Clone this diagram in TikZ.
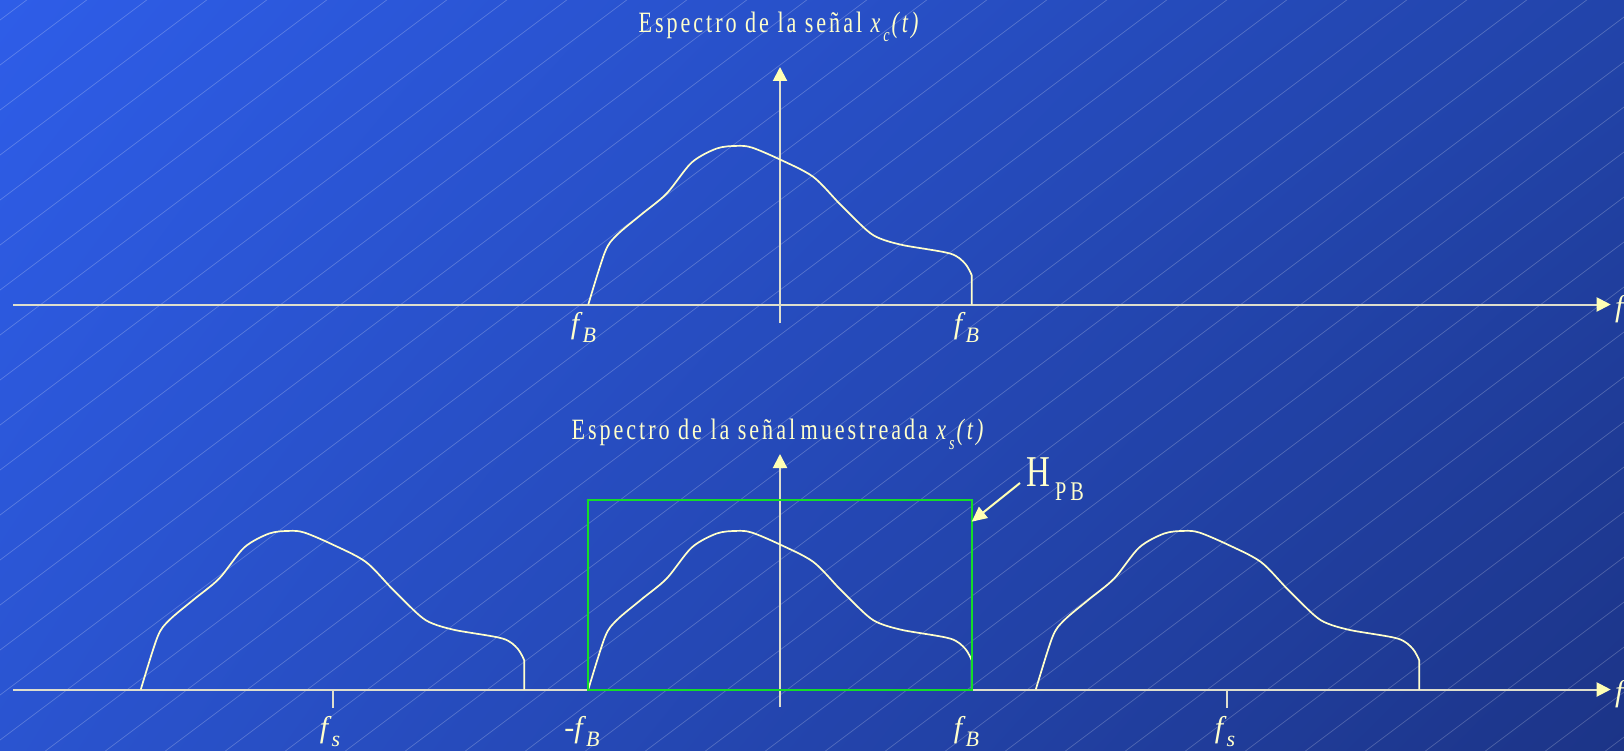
\documentclass[tikz,border=0pt]{standalone}
\usepackage{fontspec}
\setmainfont{Liberation Serif}
\newfontfamily\tfont{Liberation Serif}[FakeStretch=0.75,LetterSpace=10]
\usetikzlibrary{arrows.meta,shadings}
\definecolor{bgTL}{RGB}{46,93,232}
\definecolor{bgTR}{RGB}{34,68,170}
\definecolor{bgBL}{RGB}{42,84,208}
\definecolor{bgBR}{RGB}{28,52,135}
\definecolor{ink}{RGB}{255,255,204}
\definecolor{axiscol}{RGB}{222,222,205}
\definecolor{tipcol}{RGB}{255,255,180}
\definecolor{pbgreen}{RGB}{20,220,40}
\newcommand\sublab[2]{\textit{#1}\raisebox{-9pt}{\fontsize{22}{22}\selectfont\textit{#2}}}
\tikzset{
  hatch/.style={white, opacity=0.22, line width=0.7pt},
  axisline/.style={axiscol, line width=2pt},
  axisarrow/.style={axisline, -{Triangle[length=14pt,width=14pt,fill=tipcol,color=tipcol]}},
  curve/.style={ink, line width=1.7pt, line join=round},
  title/.style={ink, inner sep=0pt, font=\tfont\fontsize{29.5}{32}\selectfont},
  lab/.style={ink, inner sep=0pt, font=\fontsize{30}{32}\selectfont},
  spectrum/.pic={
    \draw[curve] plot[smooth, tension=0.5] coordinates {
      (0,0) (16.7,-52.6) (28.4,-69.3) (53,-90) (78.4,-111) (103.4,-142)
      (128.4,-156) (148.4,-158.6) (163.4,-157) (191.7,-145) (225,-127.6)
      (252,-100) (278.4,-74.3) (291.7,-66) (315,-59.3) (361.7,-51)
      (376.7,-41) (383.4,-29.3)} -- (383.4,0);
  }
}
\begin{document}
\begin{tikzpicture}[x=1pt, y=-1pt]
\useasboundingbox (0,0) rectangle (1624,751);
\shade[upper left=bgTL, upper right=bgTR, lower left=bgBL, lower right=bgBR] (0,0) rectangle (1624,751);
\begin{scope}
  \clip (0,0) rectangle (1624,751);
  \foreach \i in {0,...,44} \draw[hatch] ({26.7+60*\i},0) -- ({26.7+60*\i-1001.3},751);
\end{scope}

% ---------- top spectrum ----------
\node[title, anchor=base] (t1) at (780,32.3)
  {Espectro de la señal \textit{x}\raisebox{-9.4pt}{\fontsize{19}{19}\selectfont\textit{c}}\textit{(t)}};
\coordinate (a1l) at (13,304.5);
\coordinate (a1r) at (1610.7,304.5);
\coordinate (v1b) at (780,323);
\coordinate (v1t) at (780,67);
\draw[axisarrow] (a1l) -- (a1r);
\draw[axisarrow] (v1b) -- (v1t);
\pic at (588.3,304.5) {spectrum};
\node[lab, anchor=base west] (f1) at (1615,316) {\textit{f}};
\node[lab, anchor=base] (fb1) at (583.5,333.5) {\sublab{f}{B}};
\node[lab, anchor=base] (fb2) at (966.5,333.5) {\sublab{f}{B}};

% ---------- bottom spectrum ----------
\node[title, anchor=base] (t2) at (779,439.6)
  {Espectro de la señal\hspace{-3pt} muestreada \textit{x}\raisebox{-9.4pt}{\fontsize{19}{19}\selectfont\textit{s}}\textit{(t)}};
\coordinate (a2l) at (13,689.5);
\coordinate (a2r) at (1610.7,689.5);
\coordinate (v2b) at (780,707);
\coordinate (v2t) at (780,454);
\draw[axisarrow] (a2l) -- (a2r);
\draw[axisarrow] (v2b) -- (v2t);
\coordinate (tk1a) at (332.5,689.5);
\coordinate (tk1b) at (332.5,708);
\coordinate (tk2a) at (1227,689.5);
\coordinate (tk2b) at (1227,708);
\draw[axisline] (tk1a) -- (tk1b);
\draw[axisline] (tk2a) -- (tk2b);
\pic at (140.8,689.5) {spectrum};
\pic at (588.3,689.5) {spectrum};
\pic at (1035.8,689.5) {spectrum};
\coordinate (g1) at (588.3,499.5);
\coordinate (g2) at (971.7,689.5);
\draw[pbgreen, line width=2pt] (g1) rectangle (g2);
\node[lab, anchor=base west] (f2) at (1615,701) {\textit{f}};
\node[lab, anchor=base] (fs1) at (330,737) {\sublab{f}{s}};
\node[lab, anchor=base] (fb3) at (582,737) {-\sublab{f}{B}};
\node[lab, anchor=base] (fb4) at (966.5,737) {\sublab{f}{B}};
\node[lab, anchor=base] (fs2) at (1225,737) {\sublab{f}{s}};

% ---------- H_PB ----------
\node[ink, inner sep=0pt, anchor=base west] (hpb) at (1026,486)
  {\tfont\fontsize{44}{44}\selectfont H\hspace{5pt}\raisebox{-14pt}{\fontsize{27}{27}\selectfont P\hspace{4pt}B}};
\coordinate (harr) at (1020,483);
\coordinate (htip) at (971.7,521.7);
\draw[tipcol, line width=2pt, -{Triangle[length=15pt,width=14pt]}] (harr) -- (htip);
\end{tikzpicture}
\end{document}
